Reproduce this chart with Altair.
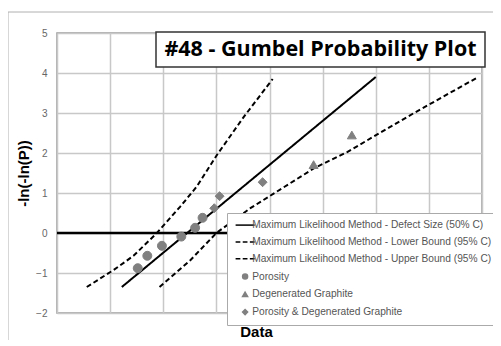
import altair as alt
import pandas as pd

# ---- data ----
line_names = [
    "Maximum Likelihood Method - Defect Size (50% C)",
    "Maximum Likelihood Method - Lower Bound (95% C)",
    "Maximum Likelihood Method - Upper Bound (95% C)",
]
marker_names = ["Porosity", "Degenerated Graphite", "Porosity & Degenerated Graphite"]
all_names = line_names + marker_names

ml_x = [1.22, 6.0]
ml_y = [-1.35, 3.9]
lb_x = [0.56, 1.06, 1.44, 1.88, 2.32, 2.63, 3.01, 3.52, 4.06]
lb_y = [-1.35, -0.93, -0.57, 0.0, 0.66, 1.16, 1.95, 2.91, 3.85]
ub_x = [1.93, 2.51, 3.0, 3.64, 4.84, 5.47, 6.72, 7.89]
ub_y = [-1.35, -0.68, 0.0, 0.62, 1.62, 2.03, 3.0, 3.87]

por_x = [1.52, 1.70, 1.975, 2.34, 2.60, 2.74]
por_y = [-0.88, -0.57, -0.32, -0.09, 0.13, 0.38]
dg_x = [4.83, 5.55]
dg_y = [1.71, 2.45]
both_x = [2.96, 3.06, 3.87]
both_y = [0.62, 0.92, 1.27]

title_text = "#48 - Gumbel Probability Plot"
x_grid = [0, 1, 2, 3, 4, 5, 6, 7, 8]
y_ticks = [-2, -1, 0, 1, 2, 3, 4, 5]

# ---- tables ----
lines_rows = []
for name, xs_, ys_ in zip(line_names, [ml_x, lb_x, ub_x], [ml_y, lb_y, ub_y]):
    for i, (a, b) in enumerate(zip(xs_, ys_)):
        lines_rows.append({"series": name, "x": a, "y": b, "i": i})
lines_df = pd.DataFrame(lines_rows)

pts_rows = []
for name, xs_, ys_ in zip(marker_names, [por_x, dg_x, both_x], [por_y, dg_y, both_y]):
    for a, b in zip(xs_, ys_):
        pts_rows.append({"series": name, "x": a, "y": b})
pts_df = pd.DataFrame(pts_rows)

zero_df = pd.DataFrame({"y": [0], "x": [x_grid[0]], "x2": [x_grid[-1]]})
title_df = pd.DataFrame({"t": [title_text]})

xs = alt.Scale(domain=[x_grid[0], x_grid[-1]], nice=False, zero=False)
ys = alt.Scale(domain=[y_ticks[0], y_ticks[-1]], nice=False, zero=False)

x_axis = alt.Axis(values=x_grid, labels=False, ticks=False, domain=False,
                  grid=True, title="Data", titleFontSize=15, titleFontWeight="bold",
                  titleColor="black", titleX=199, titleY=23, titleAlign="center",
                  titleBaseline="alphabetic", titleFont="Liberation Sans")
y_axis = alt.Axis(values=y_ticks, ticks=False, domain=False, grid=True,
                  labelOverlap=False,
                  labelFontSize=10, labelColor="#666666", labelPadding=10,
                  labelFont="Liberation Sans",
                  title="-ln(-ln(P))", titleFontSize=15, titleFontWeight="bold",
                  titleColor="black", titlePadding=4, titleFont="Liberation Sans")

X = alt.X("x:Q", scale=xs, axis=x_axis)
Y = alt.Y("y:Q", scale=ys, axis=y_axis)

frame = alt.Chart(title_df).mark_rect(fill="white", fillOpacity=0, stroke="#b0b0b0",
                                      strokeWidth=1).encode(
    x=alt.value(-49), x2=alt.value(700), y=alt.value(-21), y2=alt.value(600))

zero_line = alt.Chart(zero_df).mark_rule(color="black", strokeWidth=2.5).encode(
    x=X, x2="x2:Q", y=Y,
)

line_path = "M-3.8,0H3.8"
dash_path = "M-3.8,0H-1.9M-0.95,0H0.95M1.9,0H3.8"

lines = alt.Chart(lines_df).mark_line(color="black", strokeWidth=2).encode(
    x=X, y=Y,
    detail="series:N",
    order="i:Q",
    strokeDash=alt.StrokeDash("series:N", scale=alt.Scale(domain=line_names,
                              range=[[1, 0], [5, 3], [5, 3]]), legend=None),
)

colors = ["black", "black", "black", "#808080", "#808080", "#808080"]
points = alt.Chart(pts_df).mark_point(filled=True, size=80, opacity=1, strokeWidth=1).encode(
    x=X, y=Y,
    shape=alt.Shape("series:N", scale=alt.Scale(domain=all_names,
                    range=[line_path, dash_path, dash_path, "circle", "triangle-up", "diamond"]),
                    title=None),
    fill=alt.Fill("series:N", scale=alt.Scale(domain=all_names, range=colors), title=None),
    stroke=alt.Stroke("series:N", scale=alt.Scale(domain=all_names, range=colors), title=None),
)

title_box = alt.Chart(title_df).mark_rect(fill="white", stroke="#333333", strokeWidth=1.5).encode(
    x=alt.value(99), x2=alt.value(428), y=alt.value(-1), y2=alt.value(34))
title_txt = alt.Chart(title_df).mark_text(font="Open Sans", fontSize=21.5, fontWeight="bold",
                                          color="black", align="center",
                                          baseline="middle").encode(
    x=alt.value(263.5), y=alt.value(17), text="t:N")

chart = alt.layer(frame, zero_line, lines, points, title_box, title_txt).properties(
    width=425, height=280,
    autosize=alt.AutoSizeParams(type="none"),
    padding={"left": 49, "top": 25, "right": 11, "bottom": 27},
).configure_view(stroke="#999999", strokeWidth=1.5).configure_axis(
    gridColor="#c8c8c8", gridWidth=1.5,
).configure_legend(
    orient="none", legendX=170, legendY=180,
    strokeColor="#aaaaaa", fillColor="white", padding=7,
    labelFontSize=10.2, labelColor="#555555", labelFont="Liberation Sans", labelLimit=0,
    symbolSize=25, symbolStrokeWidth=1.5, rowPadding=5.8, labelOffset=2, symbolOffset=6,
)

chart.save("out.html", embed_options={"renderer": "svg", "actions": False})
